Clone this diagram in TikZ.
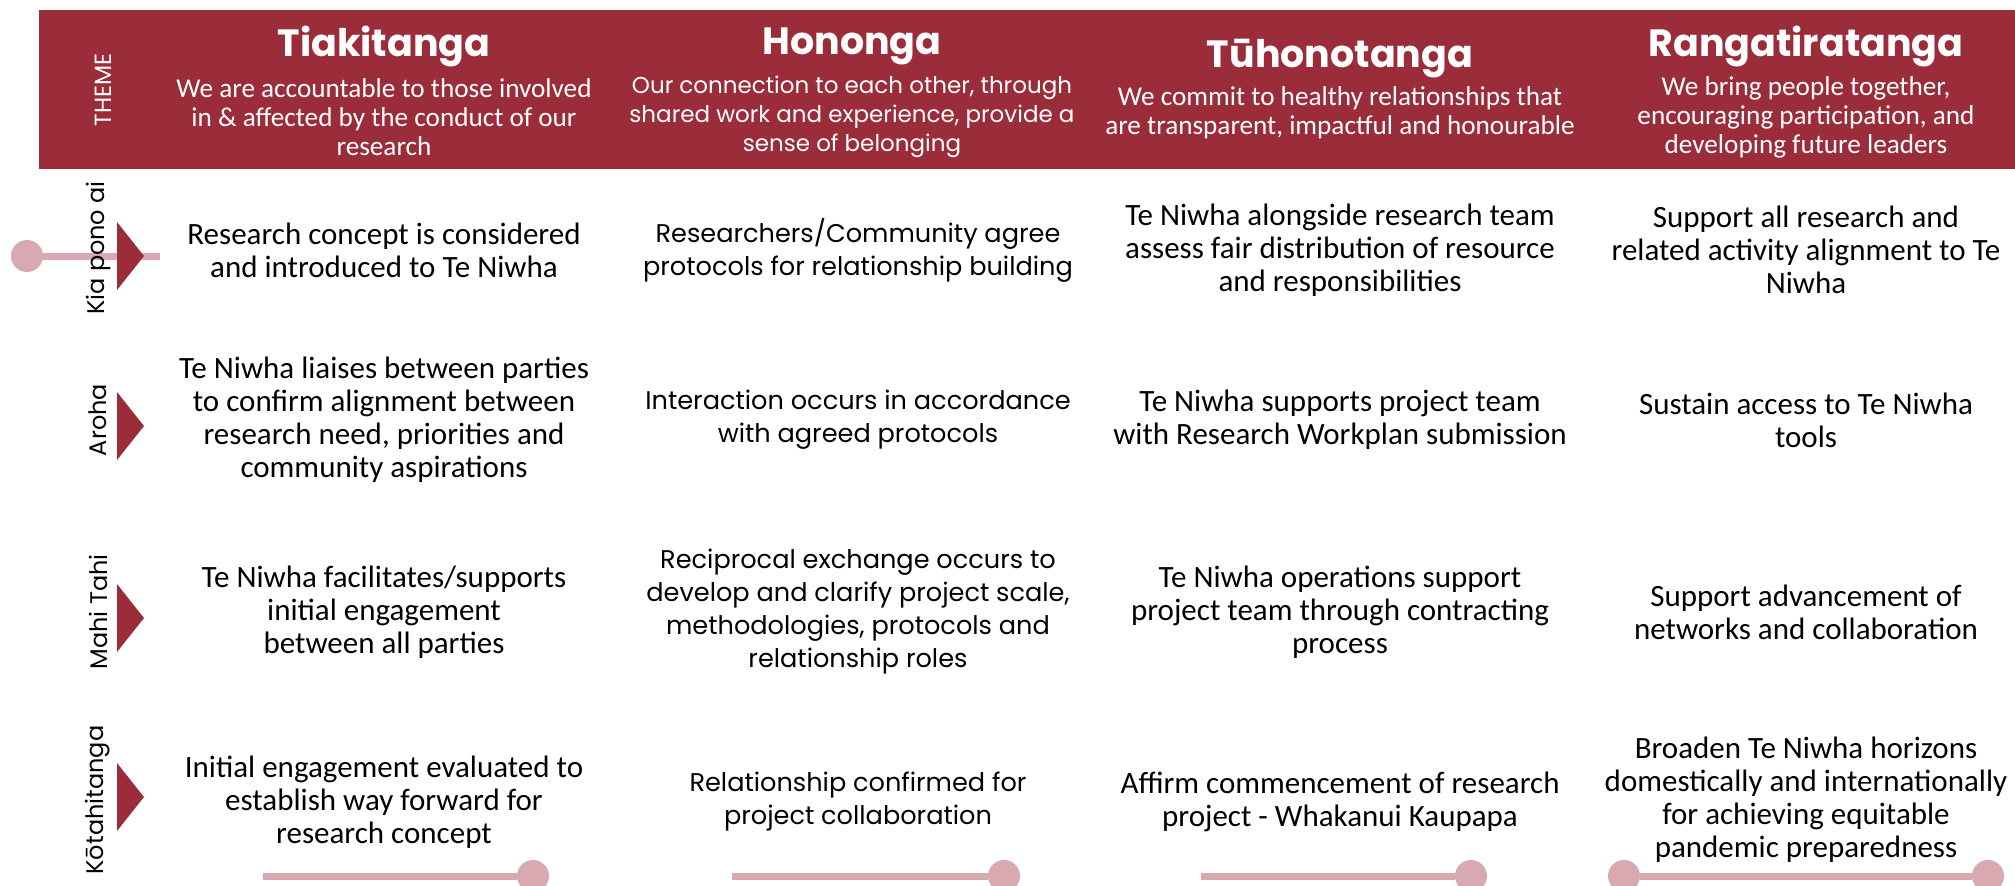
\documentclass[tikz,border=0pt]{standalone}
\usepackage{fontspec}
\setmainfont{Carlito}
\newfontfamily\wideface{Poppins}
\definecolor{themered}{RGB}{155,44,58}
\definecolor{linkpink}{RGB}{217,169,177}

\begin{document}
\begin{tikzpicture}[x=0.5pt,y=0.5pt,yscale=-1,xscale=1,
	title/.style={text=white,inner sep=0.75pt,font=\wideface\bfseries\fontsize{19}{22}\selectfont},
	blurb/.style={text=white,align=center,inner sep=0.75pt,font=\fontsize{13.6}{14.5}\selectfont},
	wideblurb/.style={blurb,font=\wideface\fontsize{11.5}{14.5}\selectfont},
	cell/.style={align=center,inner sep=0.75pt,font=\fontsize{15.5}{16.5}\selectfont},
	widecell/.style={cell,font=\wideface\fontsize{12.8}{16.5}\selectfont},
	rowname/.style={rotate=90,inner sep=0.75pt,font=\wideface\fontsize{12}{14}\selectfont},
	link/.style={draw=linkpink,line width=3.5pt},
	knob/.style={circle,fill=linkpink,minimum size=16pt,inner sep=0pt}]
	\useasboundingbox (0,0) rectangle (2015,885);
	\fill [themered] (39,10) rectangle (2015,169);
	\draw (103,90) node [rowname,text=white,font=\wideface\fontsize{11.7}{13}\selectfont] (theme) {THEME};
	\draw (384,46) node [title] (tiaki) {Tiakitanga};
	\draw (852,46) node [title] (hono) {Hononga};
	\draw (1340,59) node [title] (tuhono) {Tūhonotanga};
	\draw (1806,46) node [title] (ranga) {Rangatiratanga};
	\draw (384,117) node [blurb] (tiaki-blurb) {We are accountable to those involved\\in \& affected  by the conduct of our\\research};
	\draw (852,117) node [wideblurb] (hono-blurb) {Our connection to each other, through\\shared work and experience, provide a\\sense of belonging};
	\draw (1340,113) node [blurb] (tuhono-blurb) {We commit to healthy relationships that\\are transparent, impactful and honourable};
	\draw (1806,117) node [blurb] (ranga-blurb) {We bring people together,\\encouraging participation, and\\developing future leaders};
	\node [knob] (kia-knob) at (27,256) {};
	\coordinate (kia-end) at (160,256);
	\draw [link] (kia-knob.center) -- (kia-end);
	\draw (98,248) node [rowname] (kia) {Kia pono ai};
	\draw (98,420) node [rowname] (aroha) {Aroha};
	\draw (98,612) node [rowname] (mahi) {Mahi Tahi};
	\draw (98,800) node [rowname] (kota) {Kōtahitanga};
	\fill [themered] (117,222) -- (144,256) -- (117,290) -- cycle;
	\fill [themered] (117,392) -- (144,426) -- (117,460) -- cycle;
	\fill [themered] (117,584) -- (144,618) -- (117,652) -- cycle;
	\fill [themered] (117,763) -- (144,797) -- (117,831) -- cycle;
	\draw (384,250) node [cell] (tiaki-1) {Research concept is considered\\and introduced to Te Niwha};
	\draw (384,420) node [cell] (tiaki-2) {Te Niwha liaises between parties\\to confirm alignment between\\research need, priorities and\\community aspirations};
	\draw (384,612) node [cell] (tiaki-3) {Te Niwha facilitates/supports\\initial engagement\\between all parties};
	\draw (384,802) node [cell] (tiaki-4) {Initial engagement evaluated to\\establish way forward for\\research concept};
	\draw (858,250) node [widecell] (hono-1) {Researchers/Community agree\\protocols for relationship building};
	\draw (858,420) node [widecell] (hono-2) {Interaction occurs in accordance\\with agreed protocols};
	\draw (858,612) node [widecell] (hono-3) {Reciprocal exchange occurs to\\develop and clarify project scale,\\methodologies, protocols and\\relationship roles};
	\draw (858,802) node [widecell] (hono-4) {Relationship confirmed for\\project collaboration};
	\draw (1340,250) node [cell] (tuhono-1) {Te Niwha alongside research team\\assess fair distribution of resource\\and responsibilities};
	\draw (1340,420) node [cell] (tuhono-2) {Te Niwha supports project team\\with Research Workplan submission};
	\draw (1340,612) node [cell] (tuhono-3) {Te Niwha operations support\\project team through contracting\\process};
	\draw (1340,802) node [cell] (tuhono-4) {Affirm commencement of research\\project - Whakanui Kaupapa};
	\draw (1806,250) node [cell] (ranga-1) {Support all research and\\related activity alignment to Te\\Niwha};
	\draw (1806,420) node [cell] (ranga-2) {Sustain access to Te Niwha\\tools};
	\draw (1806,612) node [cell] (ranga-3) {Support advancement of\\networks and collaboration};
	\draw (1806,800) node [cell] (ranga-4) {Broaden Te Niwha horizons\\domestically and internationally\\for achieving equitable\\pandemic preparedness};
	\node [knob] (tiaki-knob) at (533,876) {};
	\coordinate (tiaki-tail) at (263,876);
	\draw [link] (tiaki-tail) -- (tiaki-knob);
	\node [knob] (hono-knob) at (1004,876) {};
	\coordinate (hono-tail) at (732,876);
	\draw [link] (hono-tail) -- (hono-knob);
	\node [knob] (tuhono-knob) at (1471,876) {};
	\coordinate (tuhono-tail) at (1201,876);
	\draw [link] (tuhono-tail) -- (tuhono-knob);
	\node [knob] (ranga-knob-l) at (1624,876) {};
	\node [knob] (ranga-knob-r) at (1988,876) {};
	\draw [link] (ranga-knob-l) -- (ranga-knob-r);
\end{tikzpicture}
\end{document}
